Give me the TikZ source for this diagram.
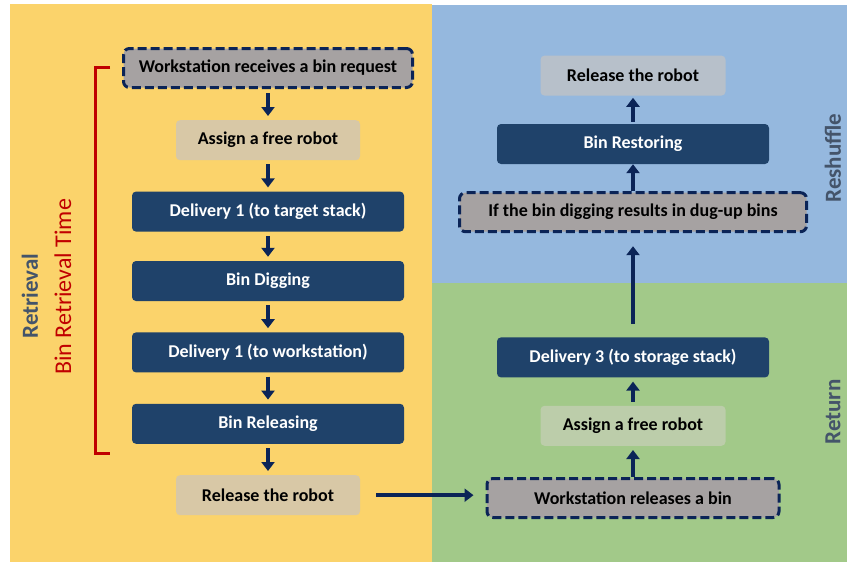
\documentclass[tikz,border=0pt]{standalone}
\usepackage{fontspec}
\setmainfont{Carlito}
\usepackage{xcolor}
\usetikzlibrary{arrows.meta, positioning, backgrounds}
\definecolor{bgyellow}{HTML}{FBD36B}
\definecolor{bgblue}{HTML}{95B8DE}
\definecolor{bggreen}{HTML}{A2C989}
\definecolor{boxnavy}{HTML}{1F426A}
\definecolor{boxbeige}{HTML}{D8C8A6}
\definecolor{boxgray}{HTML}{A6A2A2}
\definecolor{boxslate}{HTML}{B7C0CA}
\definecolor{boxsage}{HTML}{BCCDAA}
\definecolor{arrownavy}{HTML}{0B2457}
\definecolor{sidegray}{HTML}{44546A}
\definecolor{bracketred}{HTML}{C00000}

\begin{document}
\begin{tikzpicture}[x=1pt, y=-1pt, node distance=31pt,
box/.style={rectangle, rounded corners=4pt, minimum height=40pt, inner sep=0pt, align=center, font=\fontsize{18}{21}\selectfont\bfseries},
navybox/.style={box, fill=boxnavy, text=white, minimum width=272pt},
dashbox/.style={box, fill=boxgray, draw=arrownavy, line width=3pt, dash pattern=on 9pt off 4pt, rounded corners=6pt, minimum height=39pt},
arrow/.style={-{Triangle[width=13pt,length=9pt]}, line width=4.5pt, draw=arrownavy, shorten <=4pt, shorten >=4pt},
side/.style={rotate=90, text=sidegray, font=\fontsize{23}{26}\selectfont\bfseries}]
\useasboundingbox (0,0) rectangle (847,562);
\fill[bgyellow] (10,4) rectangle (432,562);
\fill[bgblue] (432,5) rectangle (847,283);
\fill[bggreen] (432,283) rectangle (847,562);

\node[dashbox, minimum width=289pt] (req) at (268,68) {Workstation receives a bin request};
\node[box, fill=boxbeige, minimum width=184pt, below=of req] (assignL) {Assign a free robot};
\node[navybox, below=of assignL] (del1) {Delivery 1 (to target stack)};
\node[navybox, below=29pt of del1] (dig) {Bin Digging};
\node[navybox, below=of dig] (del2) {Delivery 1 (to workstation)};
\node[navybox, below=of del2] (binrel) {Bin Releasing};
\node[box, fill=boxbeige, minimum width=184pt, below=of binrel] (relL) {Release the robot};

\node[dashbox, minimum width=292pt] (wsrel) at (633,498) {Workstation releases a bin};
\node[box, fill=boxsage, minimum width=185pt, above=of wsrel] (assignR) {Assign a free robot};
\node[navybox, above=28pt of assignR] (del3) {Delivery 3 (to storage stack)};
\node[dashbox, minimum width=347pt, above=104pt of del3] (ifbin) {If the bin digging results in dug-up bins};
\node[navybox, above=27pt of ifbin] (restore) {Bin Restoring};
\node[box, fill=boxslate, minimum width=185pt, above=28pt of restore] (relR) {Release the robot};

\draw[arrow] (req) -- (assignL); \draw[arrow] (assignL) -- (del1);
\draw[arrow] (del1) -- (dig); \draw[arrow] (dig) -- (del2);
\draw[arrow] (del2) -- (binrel); \draw[arrow] (binrel) -- (relL);
\draw[arrow, shorten <=16pt, shorten >=12pt] (relL.east) -- (relL.east -| wsrel.west);
\draw[arrow, shorten <=0pt] (wsrel) -- (assignR); \draw[arrow] (assignR) -- (del3);
\draw[arrow, shorten <=13pt, shorten >=13pt] (del3) -- (ifbin);
\draw[arrow, shorten <=0pt, shorten >=0pt] (ifbin) -- (restore);
\draw[arrow, shorten <=2pt, shorten >=2pt] (restore) -- (relR);

\coordinate (btop) at (110,67);
\coordinate (bbot) at (110,453);
\draw[bracketred, line width=3pt] (btop) -| ([xshift=-15pt]bbot) -- (bbot);
\node[side] (retrieval) at (30,296) {Retrieval};
\node[rotate=90, text=bracketred, font=\fontsize{24}{28}\selectfont] (brtime) at (63,287) {Bin Retrieval Time};
\node[side] (reshuffle) at (833,158) {Reshuffle};
\node[side] (return) at (833,412) {Return};
\end{tikzpicture}
\end{document}
